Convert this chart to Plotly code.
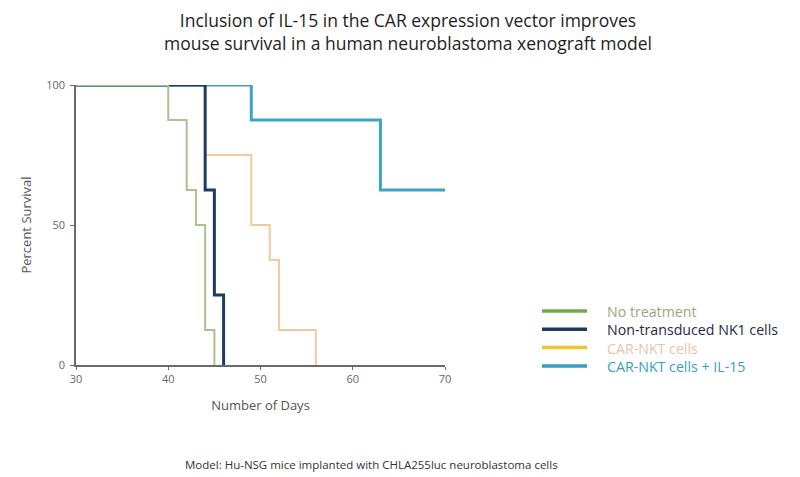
import plotly.graph_objects as go

# Data (days, percent survival) — Kaplan-Meier step points
series_names = ["No treatment", "Non-transduced NK1 cells", "CAR-NKT cells", "CAR-NKT cells + IL-15"]
no_treat_days = [30, 40, 42, 43, 44, 45]
no_treat_surv = [100, 87.5, 62.5, 50, 12.5, 0]
nk1_days = [30, 44, 45, 46]
nk1_surv = [100, 62.5, 25, 0]
carnkt_days = [30, 44, 49, 51, 52, 56]
carnkt_surv = [100, 75, 50, 37.5, 12.5, 0]
il15_days = [30, 49, 63, 70]
il15_surv = [100, 87.5, 62.5, 62.5]
x_ticks = [30, 40, 50, 60, 70]
y_ticks = [0, 50, 100]

line_colors = ["#a9c290", "#1d3c62", "#f1c8a0", "#3ba4c8"]
line_widths = [2, 3, 2, 3]
legend_line_colors = ["#72ab4e", "#1f3a5e", "#f3c232", "#3a9cc4"]
legend_text_colors = ["#93a97d", "#1e2a44", "#e6c4a8", "#38a0c0"]

FONT = "Open Sans"
OFF = 8  # page body margin offset
W, H = 800 - OFF, 477 - OFF
PL, PT, PW, PH = 76 - OFF, 85 - OFF, 369, 280


def px(xpix):
    return (xpix - OFF - PL) / PW


def py(ypix):
    return (PT + PH - (ypix - OFF)) / PH


fig = go.Figure()
data = [(no_treat_days, no_treat_surv), (nk1_days, nk1_surv),
        (carnkt_days, carnkt_surv), (il15_days, il15_surv)]
# draw order: teal bottom, orange, navy, green top
for i in [3, 2, 1, 0]:
    xs, ys = data[i]
    fig.add_trace(go.Scatter(
        x=xs, y=ys, mode="lines", line_shape="hv",
        line=dict(color=line_colors[i], width=line_widths[i]),
        name=series_names[i], showlegend=False, cliponaxis=False))

fig.update_layout(
    width=W, height=H,
    margin=dict(l=PL, r=W - PL - PW, t=PT, b=H - PT - PH, autoexpand=False),
    paper_bgcolor="white", plot_bgcolor="white",
    font=dict(family=FONT, color="#555555", size=11),
    showlegend=False,
    xaxis=dict(range=[30, 70], tickvals=x_ticks, showgrid=False, zeroline=False,
               showline=True, linecolor="#6a6a6a", linewidth=1.5,
               ticks="outside", ticklen=3, tickcolor="#6a6a6a",
               tickfont=dict(size=11, color="#666666"),
               title=dict(text="Number of Days", font=dict(size=13, color="#555555"), standoff=16)),
    yaxis=dict(range=[0, 100], tickvals=y_ticks, showgrid=False, zeroline=False,
               showline=True, linecolor="#6a6a6a", linewidth=1.5,
               ticks="outside", ticklen=4, tickcolor="#6a6a6a",
               ticklabelstandoff=3,
               tickfont=dict(size=11, color="#666666"),
               title=dict(text="Percent Survival", font=dict(size=13, color="#555555"), standoff=12)),
)

# manual legend: line swatches + one multi-line coloured text block
leg_y = [311, 329.3, 347.6, 366]
shapes = []
for i in range(4):
    shapes.append(dict(type="line", xref="paper", yref="paper",
                       x0=px(542), x1=px(587), y0=py(leg_y[i]), y1=py(leg_y[i]),
                       line=dict(color=legend_line_colors[i], width=3.5)))
fig.update_layout(shapes=shapes)

legend_text = "<br>".join(
    f"<span style='color:{legend_text_colors[i]}'>{name}</span>"
    for i, name in enumerate(series_names))
fig.add_annotation(xref="paper", yref="paper", x=px(605), y=py(338.5),
                   xanchor="left", yanchor="middle", align="left", showarrow=False,
                   text=legend_text, font=dict(family=FONT, size=14.2, color="#333333"))

fig.add_annotation(xref="paper", yref="paper", x=px(408), y=py(31),
                   xanchor="center", yanchor="middle", showarrow=False,
                   text="Inclusion of IL-15 in the CAR expression vector improves<br>mouse survival in a human neuroblastoma xenograft model",
                   font=dict(family=FONT, size=17.5, color="#1e1e1e"))
fig.add_annotation(xref="paper", yref="paper", x=px(183), y=py(464),
                   xanchor="left", yanchor="middle", showarrow=False,
                   text="Model: Hu-NSG mice implanted with CHLA255luc neuroblastoma cells",
                   font=dict(family=FONT, size=11.5, color="#333333"))

fig.write_html("out.html")
